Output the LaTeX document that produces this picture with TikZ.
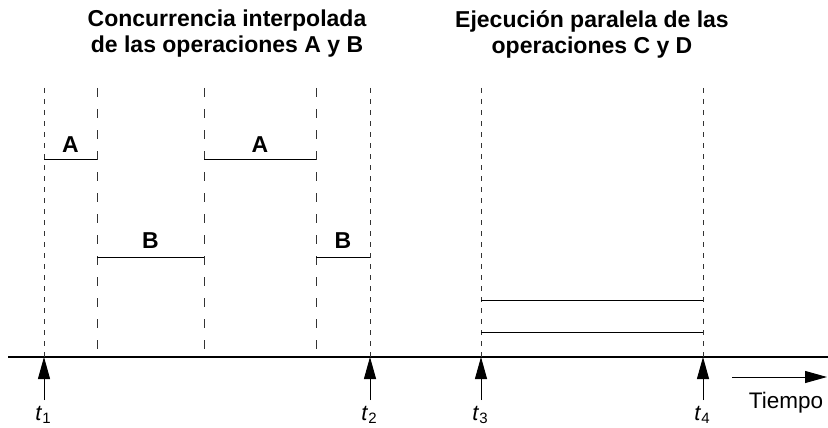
\documentclass[tikz,border=0pt]{standalone}
\usepackage{fontspec}
\setmainfont{Liberation Sans}
\usetikzlibrary{positioning,arrows.meta}

\begin{document}
\begin{tikzpicture}[x=1pt,y=-1pt,
    lane/.style={dash pattern=on 9pt off 12pt, line width=1pt, black!80},
    edge lane/.style={dash pattern=on 5pt off 6pt, line width=1pt, black!80},
    opbar/.style={line width=1pt},
    oplabel/.style={font=\fontsize{23}{26}\selectfont\bfseries, inner sep=0pt, anchor=base},
    titlebox/.style={font=\fontsize{23}{26}\selectfont\bfseries, align=center, inner sep=0pt},
    tlabel/.style={font=\fontsize{22}{24}\selectfont, anchor=base, inner sep=0pt},
    tarrow/.style={line width=1pt, -{Triangle[width=12pt,length=22pt]}}
]
    \useasboundingbox (0,0) rectangle (828,428);

    % titles
    \node[titlebox] (titleAB) at (227,34) {Concurrencia interpolada\\de las operaciones A y B};
    \node[titlebox] (titleCD) at (592,34) {Ejecución paralela de las\\operaciones C y D};

    % time axis
    \coordinate (axisL) at (8,357);
    \coordinate (axisR) at (828,357);
    \draw[line width=1.2pt] (axisL) -- (axisR);

    % dashed lanes
    \foreach \x/\n in {44/t1, 370/t2, 481/t3, 703/t4}
        \draw[edge lane] (\x,88) coordinate (top\n) -- (\x,357) coordinate (\n);
    \foreach \x/\n in {97/s1, 204/s2, 316/s3}
        \draw[lane] (\x,88) coordinate (top\n) -- (\x,357) coordinate (\n);

    % operations A and B
    \coordinate (a1) at (44,159);  \coordinate (a2) at (97,159);
    \coordinate (a3) at (204,159); \coordinate (a4) at (316,159);
    \coordinate (b1) at (97,257);  \coordinate (b2) at (204,257);
    \coordinate (b3) at (316,257); \coordinate (b4) at (370,257);
    \draw[opbar] (a1) -- node[oplabel, yshift=7pt] (opA1) {A} (a2);
    \draw[opbar] (a3) -- node[oplabel, yshift=7pt] (opA2) {A} (a4);
    \draw[opbar] (b1) -- node[oplabel, yshift=9pt] (opB1) {B} (b2);
    \draw[opbar] (b3) -- node[oplabel, yshift=9pt] (opB2) {B} (b4);

    % operations C and D
    \coordinate (c1) at (481,300); \coordinate (c2) at (703,300);
    \coordinate (d1) at (481,332); \coordinate (d2) at (703,332);
    \draw[opbar] (c1) -- (c2);
    \draw[opbar] (d1) -- (d2);

    % instants
    \foreach \x/\n/\k in {44/t1/1, 370/t2/2, 481/t3/3, 703/t4/4} {
        \node[tlabel] (lab\n) at (\x-1,420) {\textit{t}\raisebox{-0.3ex}{\fontsize{15}{16}\selectfont\k}};
        \coordinate (foot\n) at (\x,400);
        \draw[tarrow] (foot\n) -- (\n);
    }

    % time direction
    \coordinate (tstart) at (732,377);
    \coordinate (tend) at (827,377);
    \draw[line width=1pt, -{Triangle[width=12pt,length=22pt]}] (tstart) -- (tend);
    \node[font=\fontsize{22.5}{24}\selectfont, anchor=base, inner sep=0pt] (tiempo) at (786,408) {Tiempo};
\end{tikzpicture}
\end{document}
